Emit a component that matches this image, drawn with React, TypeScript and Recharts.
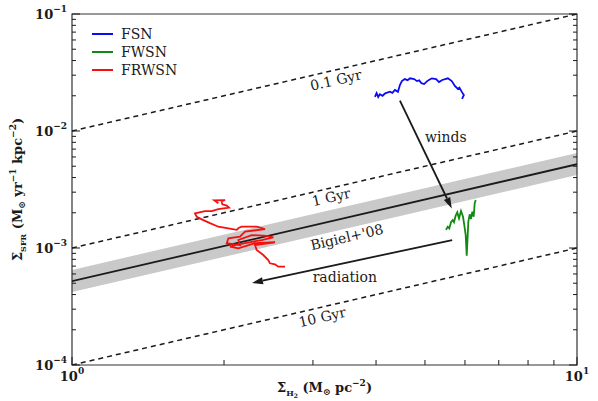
import {
  ComposedChart,
  Line,
  Area,
  XAxis,
  YAxis,
  ReferenceLine,
  ReferenceDot,
  ReferenceArea,
  Legend,
  Label,
} from "recharts";

// traces (sigma_H2, sigma_SFR)
const FSN_X = [3.98, 4.01, 4.04, 4.07, 4.12, 4.17, 4.26, 4.31, 4.36, 4.42, 4.46, 4.5, 4.56, 4.62, 4.67, 4.76, 4.82, 4.87, 4.92, 4.98, 5.05, 5.1, 5.16, 5.26, 5.33, 5.41, 5.48, 5.55, 5.65, 5.73, 5.81, 5.85, 5.91, 5.97, 5.92];
const FSN_Y = [0.0196, 0.0211, 0.0195, 0.0206, 0.02, 0.021, 0.0217, 0.0212, 0.0224, 0.0216, 0.0247, 0.0267, 0.0278, 0.0272, 0.0282, 0.0278, 0.0267, 0.0271, 0.0256, 0.0252, 0.0267, 0.0274, 0.0282, 0.0278, 0.0262, 0.0273, 0.0277, 0.0282, 0.0267, 0.0243, 0.0229, 0.0235, 0.0217, 0.0203, 0.0188];

const FWSN_X = [5.503, 5.546, 5.586, 5.63, 5.674, 5.707, 5.751, 5.794, 5.839, 5.893, 5.947, 5.982, 6.02, 6.048, 6.076, 6.093, 6.131, 6.166, 6.204, 6.243, 6.272, 6.301];
const FWSN_Y = [0.00143, 0.00152, 0.00147, 0.00166, 0.00173, 0.00166, 0.00189, 0.00202, 0.00179, 0.00207, 0.00185, 0.00157, 0.00129, 0.000859, 0.00129, 0.00168, 0.00194, 0.00177, 0.00204, 0.00185, 0.00241, 0.00257];

const FRWSN_X = [1.949, 1.913, 2.009, 1.979, 1.985, 2.025, 2.046, 1.949, 1.891, 1.834, 1.752, 1.766, 1.82, 1.876, 1.949, 2.04, 2.119, 2.141, 2.168, 2.321, 2.411, 2.201, 2.151, 2.04, 2.025, 2.151, 2.135, 2.269, 2.43, 2.504, 2.374, 2.269, 2.102, 2.055, 2.135, 2.303, 2.523, 2.303, 2.321, 2.392, 2.447, 2.466, 2.523, 2.562, 2.641];
const FRWSN_Y = [0.00241, 0.00256, 0.00257, 0.00249, 0.00236, 0.0023, 0.00221, 0.00215, 0.00207, 0.00207, 0.00198, 0.00185, 0.00173, 0.00163, 0.00152, 0.00147, 0.00143, 0.00149, 0.00152, 0.00152, 0.00145, 0.00138, 0.00125, 0.00121, 0.0011, 0.00106, 0.00117, 0.00129, 0.00127, 0.00123, 0.00117, 0.00113, 0.00106, 0.00103, 0.000994, 0.0011, 0.00112, 0.00106, 0.000962, 0.000871, 0.000789, 0.00074, 0.000726, 0.000692, 0.000692];

// constant depletion time lines: sigma_SFR at sigma_H2 = 1 and 10
const DEPL_NAMES = ["0.1 Gyr", "1 Gyr", "10 Gyr"];
const DEPL_AT_1 = [1e-2, 1e-3, 1e-4];
const DEPL_AT_10 = [1e-1, 1e-2, 1e-3];
const DEPL_LABEL_X = [3.33, 3.26, 3.13];
const DEPL_LABEL_Y = [0.0273, 0.00273, 0.000257];

// Bigiel+08 fit and scatter band
const BIGIEL_X = [1, 10];
const BIGIEL_Y = [5.2e-4, 5.2e-3];
const BAND_LO = [4.2e-4, 4.2e-3];
const BAND_HI = [6.5e-4, 6.5e-3];

const SERIES = [
  { name: "FSN", color: "#0a0af5", xs: FSN_X, ys: FSN_Y },
  { name: "FWSN", color: "#128a12", xs: FWSN_X, ys: FWSN_Y },
  { name: "FRWSN", color: "#f51010", xs: FRWSN_X, ys: FRWSN_Y },
];

const ARROWS = [
  { name: "winds", from: [4.46, 0.01816], to: [5.65, 0.00218] },
  { name: "radiation", from: [5.66, 0.00117], to: [2.272, 0.000502] },
];

const NOTES = [
  { text: "winds", x: 5.5, y: 0.00889, angle: 0 },
  { text: "radiation", x: 3.47, y: 0.000565, angle: 0 },
  { text: "Bigiel+'08", x: 3.5, y: 0.00124, angle: -13 },
];

const X_TICKS = [1, 2, 3, 4, 5, 6, 7, 8, 9, 10];
const Y_TICKS = [
  1e-4, 2e-4, 3e-4, 4e-4, 5e-4, 6e-4, 7e-4, 8e-4, 9e-4,
  1e-3, 2e-3, 3e-3, 4e-3, 5e-3, 6e-3, 7e-3, 8e-3, 9e-3,
  1e-2, 2e-2, 3e-2, 4e-2, 5e-2, 6e-2, 7e-2, 8e-2, 9e-2,
  1e-1,
];

const FONT = "'DejaVu Serif', serif";
const INK = "#1a1a1a";

const isMajor = (v: number) => {
  const l = Math.log10(v);
  return Math.abs(l - Math.round(l)) < 1e-6;
};
const expo = (v: number) => {
  const e = Math.round(Math.log10(v));
  return e < 0 ? "\u2212" + Math.abs(e) : String(e);
};

function LeftTick(props: any) {
  const { x, y, payload } = props;
  const major = isMajor(payload.value);
  return (
    <g>
      <line x1={x} y1={y} x2={x + (major ? 8 : 4)} y2={y} stroke={INK} />
      {major && (
        <text x={x - 5} y={y + 5} textAnchor="end" fontFamily={FONT} fontWeight="bold" fontSize={13} fill={INK}>
          10
          <tspan dy={-7} fontSize={9}>{expo(payload.value)}</tspan>
        </text>
      )}
    </g>
  );
}

function RightTick(props: any) {
  const { x, y, payload } = props;
  const major = isMajor(payload.value);
  return <line x1={x} y1={y} x2={x - (major ? 8 : 4)} y2={y} stroke={INK} />;
}

function BottomTick(props: any) {
  const { x, y, payload } = props;
  const major = isMajor(payload.value);
  return (
    <g>
      <line x1={x} y1={y} x2={x} y2={y - (major ? 8 : 5)} stroke={INK} />
      {major && (
        <text x={x} y={y + 16} textAnchor="middle" fontFamily={FONT} fontWeight="bold" fontSize={13} fill={INK}>
          10
          <tspan dy={-7} fontSize={9}>{expo(payload.value)}</tspan>
        </text>
      )}
    </g>
  );
}

function TopTick(props: any) {
  const { x, y, payload } = props;
  const major = isMajor(payload.value);
  return <line x1={x} y1={y} x2={x} y2={y + (major ? 8 : 5)} stroke={INK} />;
}

function Arrow(props: any) {
  const { x1, y1, x2, y2 } = props;
  const a = Math.atan2(y2 - y1, x2 - x1);
  const len = 11;
  const half = 3.5;
  const bx = x2 - len * Math.cos(a);
  const by = y2 - len * Math.sin(a);
  const pts = [
    [x2, y2],
    [bx - half * Math.sin(a), by + half * Math.cos(a)],
    [bx + half * Math.sin(a), by - half * Math.cos(a)],
  ]
    .map((p) => p.join(","))
    .join(" ");
  return (
    <g>
      <line x1={x1} y1={y1} x2={bx} y2={by} stroke={INK} strokeWidth={1.8} />
      <polygon points={pts} fill={INK} />
    </g>
  );
}

const note = (text: string, angle: number) => (props: any) => {
  const { cx, cy } = props;
  return (
    <text
      x={cx}
      y={cy}
      textAnchor="middle"
      dominantBaseline="central"
      transform={`rotate(${angle} ${cx} ${cy})`}
      fontFamily={FONT}
      fontSize={14}
      fill={INK}
    >
      {text}
    </text>
  );
};

function YLabel(props: any) {
  const vb = props.viewBox;
  const cx = vb.x + vb.width - 50;
  const cy = vb.y + vb.height / 2;
  return (
    <text
      x={cx}
      y={cy}
      transform={`rotate(-90 ${cx} ${cy})`}
      textAnchor="middle"
      fontFamily={FONT}
      fontWeight="bold"
      fontSize={13}
      fill={INK}
    >
      Σ<tspan dy={4} fontSize={8}>SFR</tspan>
      <tspan dy={-4}> (M</tspan>
      <tspan dy={3} fontSize={9}>⊙</tspan>
      <tspan dy={-3}> yr</tspan>
      <tspan dy={-6} fontSize={9}>−1</tspan>
      <tspan dy={6}> kpc</tspan>
      <tspan dy={-6} fontSize={9}>−2</tspan>
      <tspan dy={6}>)</tspan>
    </text>
  );
}

function XLabel(props: any) {
  const vb = props.viewBox;
  const cx = vb.x + vb.width / 2;
  const cy = vb.y + 27;
  return (
    <text x={cx} y={cy} textAnchor="middle" fontFamily={FONT} fontWeight="bold" fontSize={13} fill={INK}>
      Σ<tspan dy={4} fontSize={8}>H</tspan>
      <tspan dy={2} fontSize={6}>2</tspan>
      <tspan dy={-6}> (M</tspan>
      <tspan dy={3} fontSize={9}>⊙</tspan>
      <tspan dy={-3}> pc</tspan>
      <tspan dy={-6} fontSize={9}>−2</tspan>
      <tspan dy={6}>)</tspan>
    </text>
  );
}

function LegendBox() {
  return (
    <div style={{ fontFamily: FONT, fontSize: 14, color: INK, lineHeight: "18px" }}>
      {SERIES.map((s) => (
        <div key={s.name} style={{ display: "flex", alignItems: "center", height: 18 }}>
          <span style={{ display: "inline-block", width: 21, height: 0, borderTop: `2px solid ${s.color}`, marginRight: 8 }} />
          <span>{s.name}</span>
        </div>
      ))}
    </div>
  );
}

export default function App() {
  const band = BIGIEL_X.map((x, i) => ({ x, range: [BAND_LO[i], BAND_HI[i]] }));
  const bigiel = BIGIEL_X.map((x, i) => ({ x, y: BIGIEL_Y[i] }));

  return (
    <div style={{ position: "absolute", left: 0, top: 0, background: "#fff" }}>
      <ComposedChart width={598} height={401} margin={{ top: 13, right: 20, bottom: 35, left: 71 }}>
        <XAxis
          dataKey="x"
          type="number"
          scale="log"
          domain={[1, 10]}
          allowDataOverflow
          ticks={X_TICKS}
          interval={0}
          height={1}
          tickSize={0}
          tickMargin={0}
          axisLine={false}
          tick={<BottomTick />}
        >
          <Label content={<XLabel />} />
        </XAxis>
        <XAxis
          xAxisId="t"
          orientation="top"
          type="number"
          scale="log"
          domain={[1, 10]}
          allowDataOverflow
          ticks={X_TICKS}
          interval={0}
          height={1}
          tickSize={0}
          tickMargin={0}
          axisLine={false}
          tick={<TopTick />}
        />
        <YAxis
          type="number"
          scale="log"
          domain={[1e-4, 1e-1]}
          allowDataOverflow
          ticks={Y_TICKS}
          interval={0}
          width={1}
          tickSize={0}
          tickMargin={0}
          axisLine={false}
          tick={<LeftTick />}
        >
          <Label content={<YLabel />} />
        </YAxis>
        <YAxis
          yAxisId="r"
          orientation="right"
          type="number"
          scale="log"
          domain={[1e-4, 1e-1]}
          allowDataOverflow
          ticks={Y_TICKS}
          interval={0}
          width={1}
          tickSize={0}
          tickMargin={0}
          axisLine={false}
          tick={<RightTick />}
        />

        <Area
          data={band}
          dataKey="range"
          stroke="none"
          fill="#c9c9c9"
          fillOpacity={1}
          isAnimationActive={false}
          legendType="none"
        />
        {DEPL_NAMES.map((n, i) => (
          <Line
            key={n}
            data={[
              { x: 1, y: DEPL_AT_1[i] },
              { x: 10, y: DEPL_AT_10[i] },
            ]}
            dataKey="y"
            stroke={INK}
            strokeWidth={1.5}
            strokeDasharray="5 4"
            dot={false}
            isAnimationActive={false}
            legendType="none"
          />
        ))}
        <Line
          data={bigiel}
          dataKey="y"
          stroke={INK}
          strokeWidth={1.8}
          dot={false}
          isAnimationActive={false}
          legendType="none"
        />
        {SERIES.map((s) => (
          <Line
            key={s.name}
            name={s.name}
            data={s.xs.map((x, i) => ({ x, y: s.ys[i] }))}
            dataKey="y"
            stroke={s.color}
            strokeWidth={1.8}
            dot={false}
            isAnimationActive={false}
          />
        ))}
        {ARROWS.map((a) => (
          <ReferenceLine
            key={a.name}
            segment={[
              { x: a.from[0], y: a.from[1] },
              { x: a.to[0], y: a.to[1] },
            ]}
            ifOverflow="visible"
            shape={Arrow}
          />
        ))}
        {DEPL_NAMES.map((n, i) => (
          <ReferenceDot
            key={"l" + n}
            x={DEPL_LABEL_X[i]}
            y={DEPL_LABEL_Y[i]}
            ifOverflow="visible"
            shape={note(n, -13)}
          />
        ))}
        {NOTES.map((t) => (
          <ReferenceDot key={t.text} x={t.x} y={t.y} ifOverflow="visible" shape={note(t.text, t.angle)} />
        ))}
        <ReferenceArea
          x1={1}
          x2={10}
          y1={1e-4}
          y2={1e-1}
          fill="none"
          stroke="#333"
          strokeWidth={1.2}
          ifOverflow="visible"
        />
        <Legend
          layout="vertical"
          align="center"
          verticalAlign="middle"
          wrapperStyle={{ left: 92, top: 25, width: 120 }}
          content={<LegendBox />}
        />
      </ComposedChart>
    </div>
  );
}
